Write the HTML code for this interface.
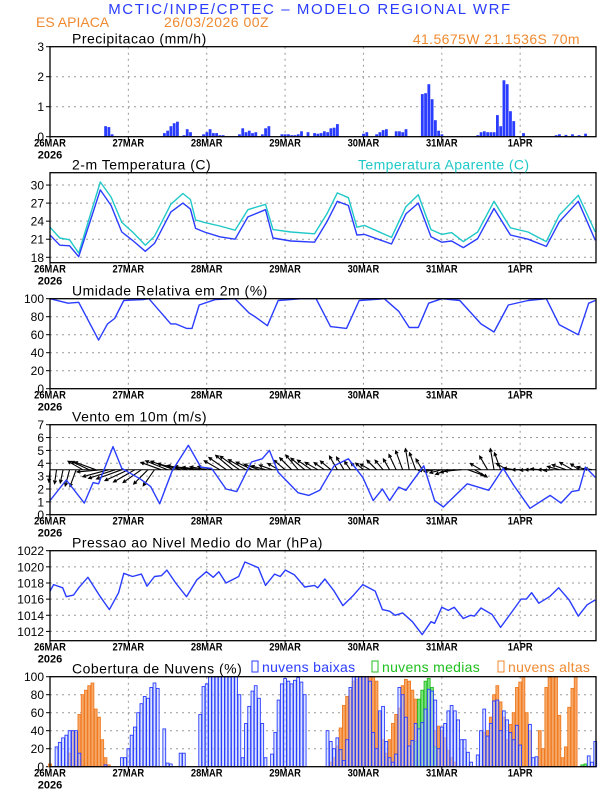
<!DOCTYPE html>
<html><head><meta charset="utf-8"><style>
html,body{margin:0;padding:0;background:#fff}
svg{display:block}
text{font-family:"Liberation Sans",sans-serif}
</style></head><body>
<svg id="chart" width="612" height="792" viewBox="0 0 612 792" xmlns="http://www.w3.org/2000/svg">
<text x="310" y="14" text-anchor="middle" font-size="15" fill="#2a3cff" letter-spacing="1.6">MCTIC/INPE/CPTEC – MODELO REGIONAL WRF</text>
<text x="36" y="27" font-size="14" fill="#f08a30">ES APIACA</text>
<text x="164" y="27" font-size="14" fill="#f08a30" letter-spacing="0.5">26/03/2026 00Z</text>
<text x="580" y="44" text-anchor="end" font-size="14" fill="#f08a30" letter-spacing="0.4">41.5675W 21.1536S 70m</text>
</svg>
<script>
// ---------- data ----------
const dayLabels = ["26MAR","27MAR","28MAR","29MAR","30MAR","31MAR","1APR"];
const precipHours = [17,18,19,35,36,37,38,39,41,42,43,47,48,49,50,51,52,53,58,59,60,61,62,63,65,66,67,71,72,73,74,75,76,77,79,81,82,83,84,85,86,87,88,96,97,100,101,102,103,106,107,108,109,114,115,116,117,118,119,120,131,132,133,134,135,136,137,138,139,140,141,142,145,155,156,158,160,162,164];
const precipVals  = [0.35,0.32,0.08,0.12,0.2,0.35,0.45,0.5,0.05,0.25,0.15,0.08,0.15,0.25,0.12,0.12,0.05,0.05,0.08,0.28,0.15,0.2,0.12,0.15,0.08,0.28,0.35,0.08,0.08,0.08,0.05,0.05,0.08,0.18,0.15,0.12,0.1,0.12,0.18,0.15,0.28,0.3,0.42,0.1,0.15,0.08,0.15,0.22,0.25,0.18,0.18,0.15,0.25,1.42,1.45,1.75,1.25,0.55,0.2,0.08,0.05,0.15,0.18,0.15,0.15,0.15,0.72,0.35,1.88,1.75,0.85,0.52,0.12,0.05,0.08,0.06,0.08,0.05,0.1];
const precipTicks = [0,1,2,3];

const tempHours = [0,3,6,8.8,15.4,18.7,22,25.3,29.2,32,37,40.7,43,44.6,47.3,52,56.7,60.6,66,68.3,73.8,81,84.8,88,91.4,94,96.3,104.6,109,112.8,116.7,120,123,126.6,131,136,141,146.4,152,156,161.8,167];
const tempVals  = [21.7,20.0,19.9,18.1,29.2,26.6,22.2,20.8,19.0,20.3,25.5,27.0,26.0,22.8,22.2,21.4,21.0,24.7,25.9,21.2,20.7,20.5,23.9,27.3,26.6,21.7,21.8,20.2,25.2,27.0,21.4,20.5,20.7,19.6,21.1,26.1,21.7,21.0,19.8,23.9,27.3,20.8];
const apparentVals = [23.0,21.2,20.9,18.7,30.5,28.0,23.8,22.2,20.0,21.5,26.8,28.6,27.6,24.2,23.8,23.2,22.5,25.9,26.8,22.6,22.2,21.9,25.2,28.7,27.9,23.0,23.3,21.3,26.4,28.4,22.6,21.8,22.1,20.6,22.2,27.3,22.9,22.2,20.6,25.0,28.3,22.2];
const tempTicks = [18,21,24,27,30];

const rhHours = [0,5.5,8.8,14.9,17.6,19.8,22.6,28.6,30.3,37,38.5,41.8,43.5,45.7,50.6,56.7,61,62.8,66.6,69.9,77,81.5,85.9,90.8,94.7,102.4,106.8,110,112.8,116,120,125.5,132,136,140.4,146.4,152,156,161.8,165,167];
const rhVals  = [100,95,96,54,72,78,98,99,100,72,72,67,67,93,99,100,84,80,70,98,100,100,69,67,98,100,86,68,68,95,100,98,72,63,93,98,100,71,60,95,98];
const rhTicks = [0,20,40,60,80,100];

const windHours = [0,5,10.5,13.2,14.9,19.3,22,27.5,30.8,33.6,37.4,42.4,46.2,49.5,53.9,57.2,61.7,65,67.2,69.9,76,79.3,82.6,87,91.4,95.8,99,101.8,104,106.8,109,114.5,117.8,120.5,127.8,134.4,138.8,142,147,153.2,156.5,159.8,162,164,167];
const windVals  = [1.1,2.7,0.9,2.5,2.4,5.3,3.6,2.8,2.2,0.85,3.4,5.4,3.7,3.6,2.0,1.8,4.1,4.35,5.0,3.3,1.7,1.5,1.9,3.8,4.35,2.9,1.1,2.0,1.1,2.15,1.9,3.8,1.1,0.6,2.4,1.9,3.6,2.3,0.5,1.5,0.9,1.8,1.9,3.7,2.9];
const arrowHours = [0,2,4,6,8,10,12,14,16,18,20,22,24,26,28,30,32,34,36,38,40,42,44,46,48,50,52,54,56,58,60,62,64,66,68,70,72,74,76,78,80,82,84,86,88,90,92,94,96,98,100,102,104,106,108,110,112,114,116,118,120,122,124,126,128,130,132,134,136,138,140,142,144,146,148,150,152,154,156,158,160,162,164,166];
const arrowDir  = [265,262,258,255,250,150,155,160,185,195,198,200,205,210,215,225,235,160,158,160,165,168,170,172,170,168,150,145,140,145,150,155,160,165,160,150,140,135,130,140,145,150,145,140,120,120,125,130,140,150,135,130,120,115,110,100,110,120,185,190,195,200,190,185,340,330,150,120,100,110,150,170,180,185,180,175,180,185,165,160,150,145,160,170];
const arrowSpd  = [2.2,2.5,2.4,3.0,3.2,3.0,3.5,4.0,4.5,4.8,5.0,4.8,4.6,4.4,4.0,3.6,3.5,3.8,4.2,4.4,4.2,3.6,3.4,3.2,3.0,2.8,3.2,3.8,4.0,4.2,3.6,3.2,2.8,2.6,2.4,2.2,2.6,3.0,3.4,3.2,3.0,2.6,2.2,2.4,2.8,2.6,1.8,1.6,1.8,2.0,2.4,2.2,2.2,3.0,3.6,3.8,3.2,2.2,1.8,2.0,2.2,2.4,2.6,3.0,3.0,2.6,2.2,2.8,3.8,3.2,2.2,1.8,1.4,1.2,1.4,1.6,1.4,1.6,2.2,2.6,2.6,1.8,1.6,1.4];
const windTicks = [0,1,2,3,4,5,6,7];

const presHours = [0,1.1,3.9,5,7.2,8.8,11.6,15.4,18.2,21,22.6,25.3,28,29.7,32,34.1,35.8,38.5,41.8,45,47.9,50,51.7,53.9,57.8,59.7,63.8,66,68.8,70.5,72.1,74.9,78,81,82,84.2,87,89.7,93,95.8,99.6,101.8,104,105.7,108,111,114,116.7,117.8,120,122,123.8,126.6,128.8,130,132,135.4,138,140.9,144.3,145.9,147.5,149.7,153,155.8,159,161.8,164.5,167];
const presVals  = [1017.0,1017.8,1017.4,1016.3,1016.5,1017.4,1018.7,1016.3,1014.7,1016.8,1019.2,1018.8,1019.1,1017.6,1018.8,1018.9,1019.6,1018.0,1016.3,1018.4,1019.4,1018.7,1019.4,1018.0,1018.8,1020.6,1019.9,1017.7,1019.1,1018.8,1019.6,1019.0,1017.5,1017.7,1017.4,1018.5,1017.0,1015.2,1016.5,1017.8,1017.0,1014.7,1014.5,1014.0,1014.3,1013.2,1011.6,1013.2,1013.0,1015.0,1014.6,1015.0,1013.6,1014.0,1013.9,1014.9,1014.1,1012.5,1014.1,1016.0,1016.0,1016.8,1015.5,1016.3,1017.4,1015.9,1013.9,1015.3,1015.9];
const presTicks = [1012,1014,1016,1018,1020,1022];

const cloudLow = [0,0,22,27,32,35,40,40,40,15,0,0,0,0,0,0,0,2,0,0,0,0,10,10,20,35,44,60,70,78,76,88,93,87,0,42,4,3,0,0,15,15,0,0,0,0,58,89,92,100,100,100,100,100,100,100,100,100,80,10,48,67,84,90,76,48,10,0,14,38,74,92,98,95,92,96,99,94,80,0,0,0,0,0,0,40,28,20,32,19,7,30,88,100,100,100,100,100,95,38,20,62,67,28,10,5,14,88,80,55,23,29,48,42,49,64,86,84,74,20,44,48,62,68,62,52,30,30,16,5,0,13,40,64,34,48,73,74,40,62,52,38,30,46,24,0,0,47,10,11,0,0,0,0,0,0,0,0,0,0,0,0,0,0,0,12,5,28];
const cloudMid = [0,0,0,0,0,0,0,0,0,0,0,0,0,0,0,0,0,0,0,0,0,0,0,0,0,0,0,0,0,0,0,0,0,0,0,0,0,0,0,0,0,0,0,0,0,0,0,0,0,0,0,0,0,0,0,0,0,0,0,0,0,0,0,0,0,0,0,0,0,0,0,0,0,0,0,0,0,0,0,0,0,0,0,0,0,0,0,0,0,0,0,0,0,0,0,0,0,0,0,0,0,0,0,0,0,0,0,0,0,0,0,0,28,75,85,95,98,88,22,0,0,0,0,0,0,0,0,0,0,0,0,0,0,0,0,0,0,0,0,0,0,0,0,0,0,0,0,0,0,0,0,0,0,0,0,0,0,0,0,0,0,0,0,2,3,0,0];
const cloudHigh = [3,0,0,0,0,0,15,40,38,58,80,85,90,93,64,55,30,10,2,0,0,0,0,0,0,0,0,0,0,0,0,0,0,0,0,0,0,0,0,0,0,0,0,0,0,0,0,0,0,0,0,0,0,0,0,0,0,0,0,0,0,0,0,0,0,0,0,0,0,0,0,0,0,0,0,0,0,0,0,0,0,0,0,0,0,0,5,10,23,43,68,78,85,95,97,100,100,100,100,100,95,60,30,15,30,48,58,65,90,97,95,85,75,68,80,60,52,42,40,45,40,32,18,10,5,0,0,0,0,0,0,0,0,38,40,55,80,90,72,55,30,47,60,88,94,100,60,40,0,0,40,20,88,99,100,100,57,10,22,66,87,100,0,0,0,0,0,0];
const cloudTicks = [0,20,40,60,80,100];

// ---------- layout ----------
const NS="http://www.w3.org/2000/svg";
const svg=document.getElementById('chart');
const X0=50, PXH=3.265, XR=596;
function xs(h){return X0+h*PXH;}
function mk(tag,attrs,parent){const e=document.createElementNS(NS,tag);for(const k in attrs)e.setAttribute(k,attrs[k]);(parent||svg).appendChild(e);return e;}

function panel(name,top,ymin,ymax,ticks,title,fmt){
  const g=mk('g',{});
  
  
  const H=90;
  const ys=v=>top+H-(v-ymin)/(ymax-ymin)*H;
  for(let d=1;d<7;d++){const l=mk('line',{x1:xs(d*24),x2:xs(d*24),y1:top,y2:top+H,stroke:'#999','stroke-dasharray':'2,4','stroke-width':1},g);
    
    }
  ticks.forEach(t=>{const y=ys(t);
    if(t>ymin+0.01&&t<ymax-0.01){const l=mk('line',{x1:X0,x2:XR,y1:y,y2:y,stroke:'#999','stroke-dasharray':'2,4'},g);
      
      }
    const tx=mk('text',{x:44,y:y+4.5,'text-anchor':'end','font-size':12},g);tx.textContent=fmt?fmt(t):t;
    
    
    mk('line',{x1:X0-4,x2:X0,y1:y,y2:y,stroke:'#000'},g);
  });
  dayLabels.forEach((lab,i)=>{const x=xs(i*24);
    const t=mk('text',{x:x,y:top+H+10,'text-anchor':'middle','font-size':11,'font-weight':'bold',transform:`translate(${x},0) scale(0.85,1) translate(${-x},0)`},g);t.textContent=lab;
    
    
    mk('line',{x1:x,x2:x,y1:top+H,y2:top+H+3,stroke:'#000'},g);
  });
  const yr=mk('text',{x:X0,y:top+H+22,'text-anchor':'middle','font-size':11,'font-weight':'bold'},g);yr.textContent='2026';
  
  
  const tt=mk('text',{x:72,y:top-3,'font-size':14,'letter-spacing':0.5},g);tt.textContent=title;
  
  
  return {g,ys,top,H};
}
function frame(p){
  mk('rect',{x:X0,y:p.top,width:XR-X0,height:p.H,fill:'none',stroke:'#000','stroke-width':1.3},p.g);
}
function line(p,hours,vals,color,name){
  const d=hours.map((h,i)=>(i?'L':'M')+xs(h).toFixed(1)+','+p.ys(vals[i]).toFixed(1)).join('');
  const l=mk('path',{d:d,fill:'none',stroke:color,'stroke-width':1.4,'stroke-linejoin':'round'},p.g);
  
  
}

const p1=panel('precip',46.7,0,3,precipTicks,'Precipitacao (mm/h)');
precipHours.forEach((h,i)=>{const y=p1.ys(precipVals[i]);
  const r=mk('rect',{x:xs(h)-1.3,y:y,width:2.8,height:p1.ys(0)-y,fill:'#2a3cff'},p1.g);
  
  });
frame(p1);

const p2=panel('temperature',172.7,17.1,32.05,tempTicks,'2-m Temperatura (C)');
line(p2,tempHours,apparentVals,'#20c8c8','apparent-temperature-line');
line(p2,tempHours,tempVals,'#2a3cff','temperature-line');
frame(p2);
const at=mk('text',{x:358,y:169.7,'font-size':14,fill:'#20c8c8','letter-spacing':0.4});at.textContent='Temperatura Aparente (C)';



const p3=panel('humidity',298.7,0,100,rhTicks,'Umidade Relativa em 2m (%)');
line(p3,rhHours,rhVals,'#2a3cff','humidity-line');
frame(p3);

const p4=panel('wind',424.7,0,7,windTicks,'Vento em 10m (m/s)');
const by=p4.ys(3.5);
mk('line',{x1:X0,x2:XR,y1:by,y2:by,stroke:'#000','stroke-width':1},p4.g);
arrowHours.forEach((h,i)=>{const a=arrowDir[i]*Math.PI/180,L=arrowSpd[i]*5.6;
  const x1=xs(h),y1=by,x2=x1+L*Math.cos(a),y2=y1-L*Math.sin(a);
  const hl=3.5,ha=0.45;
  const d=`M${x1},${y1}L${x2},${y2}M${x2-hl*Math.cos(a-ha)},${y2+hl*Math.sin(a-ha)}L${x2},${y2}L${x2-hl*Math.cos(a+ha)},${y2+hl*Math.sin(a+ha)}`;
  const ar=mk('path',{d:d,stroke:'#000','stroke-width':1.1,fill:'none'},p4.g);
  
  });
line(p4,windHours,windVals,'#2a3cff','wind-speed-line');
frame(p4);

const p5=panel('pressure',550.7,1010.85,1022,presTicks,'Pressao ao Nivel Medio do Mar (hPa)');
line(p5,presHours,presVals,'#2a3cff','pressure-line');
frame(p5);

const p6=panel('clouds',676.7,0,100,cloudTicks,'Cobertura de Nuvens (%)');
function bars(vals,fill,stroke,name){vals.forEach((v,h)=>{if(v<=0)return;const y=p6.ys(v);
  const r=mk('rect',{x:xs(h)-1.4,y:y,width:2.8,height:p6.ys(0)-y,fill:fill,stroke:stroke,'stroke-width':0.9},p6.g);
  
  });}
bars(cloudHigh,'#f6a868','#f07a20','cloud-high-bar');
bars(cloudMid,'#7ee07e','#20c020','cloud-mid-bar');
bars(cloudLow,'rgba(190,205,255,0.55)','#2a3cff','cloud-low-bar');
frame(p6);
const leg=[[252,'nuvens baixas','#2a3cff'],[372,'nuvens medias','#20c020'],[498,'nuvens altas','#f08a30']];
leg.forEach(([x,t,c])=>{const r=mk('rect',{x:x,y:661,width:6,height:11,fill:'none',stroke:c,'stroke-width':1});
  
  
  const tx=mk('text',{x:x+10,y:672,'font-size':14,fill:c,'letter-spacing':0.3});tx.textContent=t;
  
  });
</script>
</body></html>
